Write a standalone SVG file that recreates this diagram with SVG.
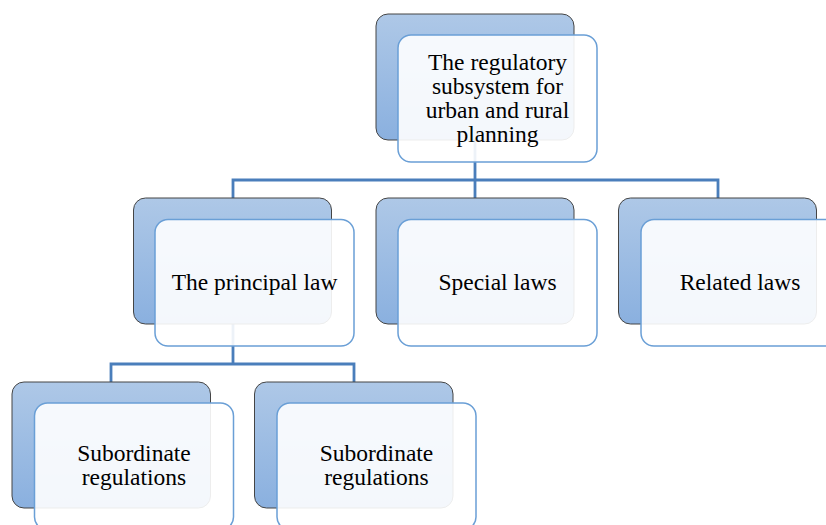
<svg xmlns="http://www.w3.org/2000/svg" width="826" height="525" viewBox="0 0 826 525">
  <style>
    .back { fill: url(#backGrad); stroke: #454545; stroke-width: 1; }
    .front { fill: #ffffff; fill-opacity: 0.9; stroke: #6a9fd6; stroke-width: 1.5; }
    .label { font-family: "Liberation Serif", "Times New Roman", serif; font-size: 23.5px; fill: #000000; text-anchor: middle; }
    .conn { fill: none; stroke: #4a7ebb; stroke-width: 2.8; }
  </style>
  <defs>
    <linearGradient id="backGrad" x1="0" y1="0" x2="0" y2="1">
      <stop offset="0" stop-color="#aec8e7"/>
      <stop offset="1" stop-color="#8ab0df"/>
    </linearGradient>
  </defs>
  <rect width="826" height="525" fill="#ffffff"/>

  <!-- tree connectors -->
  <g id="connectors">
    <path class="conn" d="M475,140 V180 M233,198 V180 H718 V198 M475,180 V198"/>
    <path class="conn" d="M233,324 V364 M111,382 V364 H354 V382"/>
  </g>

  <!-- root -->
  <g id="root">
    <rect class="back" x="376" y="14" width="198" height="126" rx="12"/>
    <rect class="front" x="398" y="35" width="199" height="127" rx="13"/>
    <text class="label" x="497.5" y="70">The regulatory</text>
    <text class="label" x="497.5" y="94">subsystem for</text>
    <text class="label" x="497.5" y="118">urban and rural</text>
    <text class="label" x="497.5" y="142">planning</text>
  </g>

  <g id="principal">
    <rect class="back" x="133.5" y="198" width="198" height="126" rx="12"/>
    <rect class="front" x="155" y="219.5" width="199" height="126.5" rx="13"/>
    <text class="label" x="254.5" y="289.5">The principal law</text>
  </g>

  <g id="special">
    <rect class="back" x="376" y="198" width="198" height="126" rx="12"/>
    <rect class="front" x="398" y="219.5" width="199" height="126.5" rx="13"/>
    <text class="label" x="497.5" y="289.5">Special laws</text>
  </g>

  <g id="related">
    <rect class="back" x="618.5" y="198" width="198" height="126" rx="12"/>
    <rect class="front" x="641" y="219.5" width="199" height="126.5" rx="13"/>
    <text class="label" x="740" y="289.5">Related laws</text>
  </g>

  <g id="subordinate-1">
    <rect class="back" x="12" y="382" width="198.5" height="126" rx="12"/>
    <rect class="front" x="34.5" y="403" width="199" height="127" rx="13"/>
    <text class="label" x="134" y="461">Subordinate</text>
    <text class="label" x="134" y="485">regulations</text>
  </g>

  <g id="subordinate-2">
    <rect class="back" x="254.5" y="382" width="198.5" height="126" rx="12"/>
    <rect class="front" x="277" y="403" width="199" height="127" rx="13"/>
    <text class="label" x="376.5" y="461">Subordinate</text>
    <text class="label" x="376.5" y="485">regulations</text>
  </g>
</svg>
